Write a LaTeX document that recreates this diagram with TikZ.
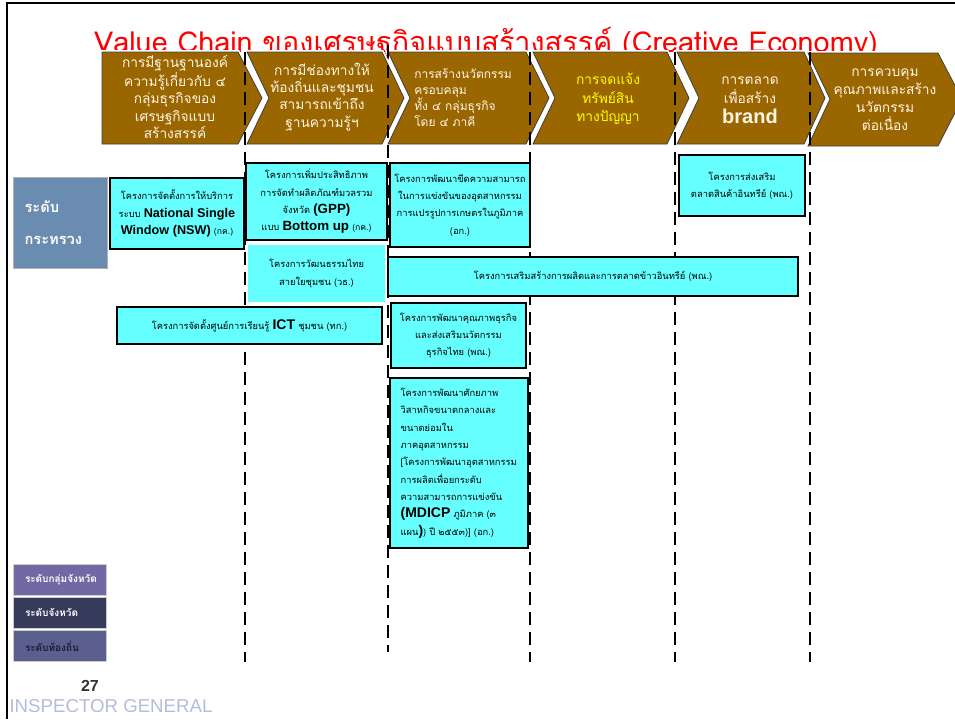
\documentclass[tikz,border=0pt]{standalone}
\usepackage{fontspec}
\setmainfont[Script=Thai]{Loma}
\newfontfamily\arial{Liberation Sans}
\definecolor{chevbrown}{HTML}{996600}
\definecolor{chevtext}{HTML}{FFF6E6}
\definecolor{chevyellow}{HTML}{FFFF00}
\definecolor{boxcyan}{HTML}{66FFFF}
\definecolor{titlered}{HTML}{FF0000}
\definecolor{ministry}{HTML}{6A8CB0}
\definecolor{lvlgroup}{HTML}{7268A4}
\definecolor{lvlprov}{HTML}{363B5C}
\definecolor{lvllocal}{HTML}{5B5F90}
\definecolor{lvltxt}{HTML}{1B1B3A}
\definecolor{igtext}{HTML}{B4BCDC}
\newcommand\lat[2]{{\arial\bfseries\fontsize{#1}{13}\selectfont #2}}
\newcommand\sm[1]{{\fontsize{6.5}{13}\selectfont #1}}
\begin{document}
\begin{tikzpicture}[x=0.75pt,y=-0.75pt,
  chev/.style={fill=chevbrown, draw=black!75, line width=0.6pt, preaction={draw=white, line width=3pt}},
  chevtxt/.style={text=chevtext, align=center, inner sep=0pt, font=\fontsize{10.3}{12.9}\selectfont},
  dashline/.style={line width=2.1pt, dash pattern=on 9.5pt off 5.5pt},
  cbox/.style={draw=black, line width=0.8pt, fill=boxcyan, inner sep=0pt, align=center, font=\fontsize{7}{13}\selectfont},
  lvlbox/.style={minimum width=69.75pt, minimum height=23.25pt, inner xsep=9pt, inner ysep=0pt, align=left, text width=51.75pt, font=\bfseries\fontsize{7.5}{9}\selectfont, draw=white!80!black, line width=0.3pt}
]
\useasboundingbox (0,0) rectangle (955,719);
% frame
\coordinate (ftl) at (7,3);
\coordinate (ftr) at (955,3);
\coordinate (fbl) at (7,719);
\draw[line width=1.9pt] (ftr) -- (ftl) -- (fbl);
% title
\node[text=titlered, font=\fontsize{21.6}{24}\selectfont, anchor=base, inner sep=0pt] (title) at (486,52)
  {Value Chain ของเศรษฐกิจแบบสร้างสรรค์ (Creative Economy)};
% chevrons
\filldraw[chev] (102,52) -- (238,52) -- (262,98) -- (238,144) -- (102,144) -- cycle;
\filldraw[chev] (247,52) -- (382,52) -- (404,98) -- (382,144) -- (247,144) -- (269,98) -- cycle;
\filldraw[chev] (388,52) -- (526,52) -- (549,98) -- (526,144) -- (388,144) -- (410,98) -- cycle;
\filldraw[chev] (533,52) -- (667,52) -- (689,98) -- (667,144) -- (533,144) -- (555,98) -- cycle;
\filldraw[chev] (677,52) -- (804,52) -- (825,98) -- (804,144) -- (677,144) -- (699,98) -- cycle;
\filldraw[chev] (808,53) -- (938,53) -- (962,99) -- (938,146) -- (808,146) -- (830,99) -- cycle;
\node[chevtxt] (c1) at (175,97) {การมีฐานฐานองค์\\ความรู้เกี่ยวกับ ๔\\กลุ่มธุรกิจของ\\เศรษฐกิจแบบ\\สร้างสรรค์};
\node[chevtxt] (c2) at (322,97) {การมีช่องทางให้\\ท้องถิ่นและชุมชน\\สามารถเข้าถึง\\ฐานความรู้ฯ};
\node[chevtxt, align=left, anchor=west, font=\fontsize{9}{12}\selectfont] (c3) at (414,98) {การสร้างนวัตกรรม\\ครอบคลุม\\ทั้ง ๔ กลุ่มธุรกิจ\\โดย ๔ ภาคี};
\node[chevtxt, text=chevyellow, font=\fontsize{10.3}{13.9}\selectfont] (c4) at (608,99) {การจดแจ้ง\\ทรัพย์สิน\\ทางปัญญา};
\node[chevtxt, font=\fontsize{10.3}{14.6}\selectfont] (c5) at (750,100) {การตลาด\\เพื่อสร้าง\\{\arial\bfseries\fontsize{15}{14.6}\selectfont brand}};
\node[chevtxt, font=\fontsize{10.3}{13.5}\selectfont] (c6) at (885,100) {การควบคุม\\คุณภาพและสร้าง\\นวัตกรรม\\ต่อเนื่อง};
% dashed separators
\coordinate (d1t) at (245,52);  \coordinate (d1b) at (245,662);
\coordinate (d2t) at (388,45);  \coordinate (d2b) at (388,652);
\coordinate (d3t) at (530,52);  \coordinate (d3b) at (530,662);
\coordinate (d4t) at (675,52);  \coordinate (d4b) at (675,662);
\coordinate (d5t) at (810,52);  \coordinate (d5b) at (810,662);
\foreach \d in {d1,d2,d3,d4,d5} \draw[dashline] (\d t) -- (\d b);
% level labels
\node[fill=ministry, draw=white!70!black, line width=0.3pt, minimum width=70.5pt, minimum height=68.25pt, inner xsep=8.25pt, inner ysep=0pt, text width=54pt, align=left, text=white, font=\bfseries\fontsize{11}{24}\selectfont] (lvmin) at (60.5,222.5) {ระดับ\\กระทรวง};
\node[lvlbox, fill=lvlgroup, text=white] (lvgrp) at (59.5,579.5) {ระดับกลุ่มจังหวัด};
\node[lvlbox, fill=lvlprov, text=white] (lvprov) at (59.5,612.5) {ระดับจังหวัด};
\node[lvlbox, fill=lvllocal, text=lvltxt] (lvloc) at (59.5,646) {ระดับท้องถิ่น};
% project boxes
\node[cbox, minimum width=100.5pt, minimum height=53.25pt] (nsw) at (177,213.5)
  {โครงการจัดตั้งการให้บริการ\\ระบบ \lat{9.5}{National Single}\\\lat{9.5}{Window (NSW)} \sm{(กค.)}};
\node[cbox, minimum width=105.75pt, minimum height=57.75pt] (gpp) at (316.5,201.5)
  {โครงการเพิ่มประสิทธิภาพ\\การจัดทำผลิตภัณฑ์มวลรวม\\จังหวัด \lat{10}{(GPP)}\\แบบ \lat{10}{Bottom up} \sm{(กค.)}};
\node[cbox, draw=none, minimum width=102.75pt, minimum height=42.75pt] (vth) at (316.5,273.5)
  {โครงการวัฒนธรรมไทย\\สายใยชุมชน (วธ.)};
\node[cbox, minimum width=198.75pt, minimum height=27.75pt] (ict) at (249.5,325.5)
  {โครงการจัดตั้งศูนย์การเรียนรู้ \lat{10.5}{ICT} ชุมชน (ทก.)};
\node[cbox, minimum width=105pt, minimum height=63pt] (agro) at (460,205)
  {โครงการพัฒนาขีดความสามารถ\\ในการแข่งขันของอุตสาหกรรม\\การแปรรูปการเกษตรในภูมิภาค\\(อก.)};
\node[cbox, minimum width=94.5pt, minimum height=45.75pt] (organic) at (742,185.5)
  {โครงการส่งเสริม\\ตลาดสินค้าอินทรีย์ (พณ.)};
\node[cbox, minimum width=307.5pt, minimum height=29.25pt] (rice) at (593,276.5)
  {โครงการเสริมสร้างการผลิตและการตลาดข้าวอินทรีย์ (พณ.)};
\node[cbox, minimum width=101.25pt, minimum height=48.75pt] (biz) at (458.5,335.5)
  {โครงการพัฒนาคุณภาพธุรกิจ\\และส่งเสริมนวัตกรรม\\ธุรกิจไทย (พณ.)};
\node[cbox, minimum width=103.5pt, minimum height=127.5pt, align=left, text width=87.5pt, inner xsep=8pt] (mdicp) at (459,463)
  {โครงการพัฒนาศักยภาพ\\วิสาหกิจขนาดกลางและ\\ขนาดย่อมใน\\ภาคอุตสาหกรรม\\{[}โครงการพัฒนาอุตสาหกรรม\\การผลิตเพื่อยกระดับ\\ความสามารถการแข่งขัน\\\lat{10.5}{(MDICP} ภูมิภาค (๓\\แผน\lat{10.5}{)}) ปี ๒๕๕๓)] (อก.)};
% footer
\node[font=\arial\bfseries\fontsize{12}{14}\selectfont, text=black!80] (pnum) at (90,686) {27};
\node[font=\arial\fontsize{14}{16}\selectfont, text=igtext] (ig) at (111,706) {INSPECTOR GENERAL};
\end{tikzpicture}
\end{document}
